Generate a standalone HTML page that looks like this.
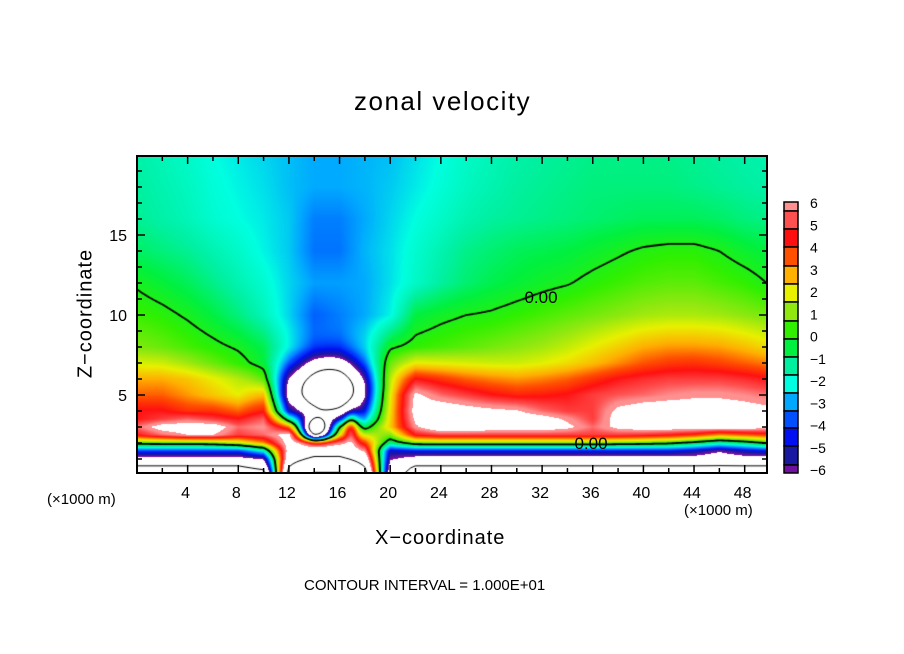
<!DOCTYPE html>
<html><head><meta charset="utf-8"><style>
body{margin:0;background:#fff;width:904px;height:654px;overflow:hidden;position:relative;font-family:"Liberation Sans",sans-serif;}
.t{position:absolute;color:#000;white-space:nowrap;}
</style></head><body>
<div class="t" style="left:354px;top:86px;font-size:26px;letter-spacing:1.5px;">zonal velocity</div>
<div class="t" style="left:16px;top:302px;font-size:20px;letter-spacing:1px;transform:rotate(-90deg);transform-origin:center;width:140px;text-align:center;">Z−coordinate</div>
<div class="t" style="left:375px;top:527px;font-size:20px;letter-spacing:1px;">X−coordinate</div>
<div class="t" style="left:47px;top:491px;font-size:15px;">(×1000 m)</div>
<div class="t" style="left:684px;top:502px;font-size:15px;">(×1000 m)</div>
<div class="t" style="left:304px;top:577px;font-size:15px;">CONTOUR INTERVAL = 1.000E+01</div>
<canvas id="cv" width="631" height="318" style="position:absolute;left:137px;top:156px;"></canvas>
<svg id="ov" width="904" height="654" style="position:absolute;left:0;top:0;"></svg>
<script>
const xCols=[0,2,4,6,8,10,12,14,16,18,20,22,24,26,28,30,32,34,36,38,40,42,44,46,48,50];
const zRows=[0,0.5,1,1.5,2,2.5,3,3.5,4,5,6,7,8,10,12,14,16,18,20];
const uRows=[
[-12,-12,-12,-12,-12,-12,12,22,22,12,-8,-12,-12,-12,-12,-12,-12,-12,-12,-12,-12,-12,-12,-12,-12,-12],
[-10.5,-10.5,-10.5,-10.5,-10.5,-9,10,16,16,10,-7,-10.5,-10.5,-10.5,-10.5,-10.5,-10.5,-10.5,-10.5,-10.5,-10.5,-10.5,-10.5,-10.5,-10.5,-10.5],
[-7,-7,-7,-7,-7,-6,8,11,11,8,-6,-7,-7,-7,-7,-7,-7,-7,-7,-7,-7,-7,-7,-7.5,-7,-7],
[-4,-4,-4,-4,-4,-2,7,8,8,6,-5,-4.5,-4.5,-4.5,-4.5,-4.5,-4.5,-4.5,-4.5,-4.5,-4.5,-4.5,-5,-6,-5,-4.5],
[0.5,0.6,0.6,0.8,1.5,3,7,6,6,4,-1,0.8,1,1,1,1,1,1,1,0.8,0.6,0.3,-0.5,-1.5,-0.8,0.3],
[4.5,5.5,6.2,6.2,5,5.5,7,-1,3,2,1,4.5,5,5,5,5,5,5,5,5,4.8,4.5,4,3,3.5,4],
[5.5,6.8,7,7,5.5,6,4,-2,2,0,2.5,6,7.5,7.5,7,7,7,6.5,5.5,6.5,7,7,7,7,7,6.5],
[4.5,5,5.5,5,4.5,5.5,0,-2,-1,-1.5,2.5,6.5,7.5,7.5,7,7,6.8,6,5,6.8,7.2,7.2,7.2,7.2,7,6.8],
[4.5,4.5,4,4,3.5,4.5,-3,-2.5,-2.5,-2,2.5,6.8,7.2,6.8,6.5,6.3,5.5,5,5,6.5,7,7,7,7,6.8,6.5],
[3.5,3.5,3,2.5,2,3,-4,-3,-3,-2,2.5,6.5,5.5,5,4.5,4.2,4.3,4.5,5,5.3,5.5,5.8,6,6,5.8,5.5],
[2.8,2.8,2.5,2,1.5,1,-3.5,-3,-3,-2,2,4.5,4,3.5,3.2,3,3.2,3.5,4,4.5,4.8,5,5,5,4.8,4.5],
[1.8,1.7,1.3,0.8,0.3,-0.3,-2.5,-3.5,-3.5,-2,1,2,1.9,1.8,1.7,1.7,1.9,2.2,2.6,3.1,3.6,3.9,4,3.8,3.5,3.2],
[1.0,0.8,0.5,0.2,-0.1,-0.6,-2,-3.3,-3.3,-2.2,-0.1,0.3,0.5,0.7,0.9,1.1,1.3,1.6,2,2.4,2.8,3.0,3.0,2.9,2.6,2.2],
[0.4,0.2,-0.1,-0.5,-1.0,-1.6,-2.5,-3.6,-3.3,-2.9,-2.2,-0.5,-0.2,0.0,0.1,0.3,0.5,0.7,0.9,1.1,1.3,1.4,1.4,1.3,1.1,0.9],
[-0.1,-0.4,-0.7,-1.1,-1.5,-1.9,-2.5,-3.0,-3.0,-2.9,-2.4,-1.8,-1.3,-0.9,-0.6,-0.4,-0.2,-0.05,0.2,0.4,0.6,0.7,0.7,0.5,0.3,-0.05],
[-0.8,-1.0,-1.2,-1.5,-1.8,-2.2,-2.6,-3.4,-3.4,-2.8,-2.4,-1.9,-1.5,-1.1,-0.9,-0.7,-0.6,-0.5,-0.3,-0.1,0.1,0.2,0.2,0.0,-0.3,-0.5],
[-1.2,-1.4,-1.6,-1.9,-2.1,-2.3,-2.6,-3.3,-3.3,-2.9,-2.5,-2.1,-1.8,-1.5,-1.3,-1.2,-1.1,-1.0,-0.9,-0.8,-0.7,-0.7,-0.7,-0.8,-1.0,-1.1],
[-1.3,-1.5,-1.7,-2.0,-2.2,-2.4,-2.7,-2.9,-2.9,-2.8,-2.6,-2.3,-2.0,-1.7,-1.5,-1.3,-1.2,-1.1,-1.0,-1.0,-1.0,-1.0,-1.1,-1.2,-1.3,-1.4],
[-1.4,-1.6,-1.8,-2.1,-2.3,-2.5,-2.7,-2.9,-2.9,-2.8,-2.7,-2.4,-2.1,-1.8,-1.6,-1.4,-1.3,-1.2,-1.1,-1.1,-1.1,-1.1,-1.2,-1.3,-1.4,-1.5]
];
// vortex features: centre x, centre z, radius x, radius z, amplitude
const vortexX=[15.2,14.2,16.9];
const vortexZ=[5.3,2.9,3.0];
const vortexRx=[2.8,1.1,0.6];
const vortexRz=[1.7,0.7,1.0];
const vortexAmp=[-12,-11,4];
const levelVals=[-5.96,-5.33,-4.52,-3.73,-2.92,-2.11,-1.30,-0.49,0.31,1.15,1.96,2.79,3.62,4.43,5.26,5.85];
const levelColors=["#7010a0","#1818a0","#0010f0","#0050ff","#00a8ff","#00ffe0","#00f0a0","#00f040","#30f000","#90e810","#e8f000","#ffb000","#ff5000","#ff1010","#ff5050","#ff9090"];
const cbLabels=["6","5","4","3","2","1","0","−1","−2","−3","−4","−5","−6"];
const xTickLabels=[4,8,12,16,20,24,28,32,36,40,44,48];
const zTickLabels=[5,10,15];

const X0=137,X1=767,Y0=156,Y1=473;
const sx=x=>137+x*12.66;
const sz=z=>475-z*16;
const ix=px=>(px-137)/12.66;
const iz=py=>(475-py)/16;

function seg(arr,v){let i=0;while(i<arr.length-2&&v>arr[i+1])i++;let t=(v-arr[i])/(arr[i+1]-arr[i]);t=Math.max(0,Math.min(1,t));return [i,t];}
function field(x,z){
  const [i,tx]=seg(xCols,x),[j,tz]=seg(zRows,z);
  const a=uRows[j][i],b=uRows[j][i+1],c=uRows[j+1][i],d=uRows[j+1][i+1];
  let v=(a*(1-tx)+b*tx)*(1-tz)+(c*(1-tx)+d*tx)*tz;
  for(let k=0;k<vortexX.length;k++){
    const dx=(x-vortexX[k])/vortexRx[k],dz=(z-vortexZ[k])/vortexRz[k];
    v+=vortexAmp[k]*Math.exp(-(dx*dx+dz*dz));
  }
  return v;
}
function hex(h){return [parseInt(h.slice(1,3),16),parseInt(h.slice(3,5),16),parseInt(h.slice(5,7),16)];}
const rgbs=levelColors.map(hex);
function colorOf(v){
  if(v>6.2||v<-6.2)return [255,255,255];
  if(v<=levelVals[0])return rgbs[0];
  if(v>=levelVals[levelVals.length-1])return rgbs[rgbs.length-1];
  let i=0;while(v>levelVals[i+1])i++;
  const t=(v-levelVals[i])/(levelVals[i+1]-levelVals[i]);
  return rgbs[i].map((c,k)=>Math.round(c+(rgbs[i+1][k]-c)*t));
}
const cv=document.getElementById('cv');const ctx=cv.getContext('2d');
const W=cv.width,H=cv.height;
const img=ctx.createImageData(W,H);
for(let py=0;py<H;py++)for(let px=0;px<W;px++){
  const v=field(ix(px+137+0.5),iz(py+156+0.5));
  const c=colorOf(v);const o=(py*W+px)*4;
  img.data[o]=c[0];img.data[o+1]=c[1];img.data[o+2]=c[2];img.data[o+3]=255;
}
ctx.putImageData(img,0,0);
const st=2,gw=Math.ceil(W/st)+1,gh=Math.ceil(H/st)+1;
const G=[];for(let j=0;j<gh;j++){G.push([]);for(let i=0;i<gw;i++)G[j].push(field(ix(137+i*st),iz(156+j*st)));}
function contour(level,lw,dash){
  ctx.beginPath();ctx.lineWidth=lw;ctx.strokeStyle='#000';ctx.setLineDash(dash);
  for(let j=0;j<gh-1;j++)for(let i=0;i<gw-1;i++){
    const c=[[i,j],[i+1,j],[i+1,j+1],[i,j+1]];const pts=[];
    for(let e=0;e<4;e++){
      const p=c[e],q=c[(e+1)%4];const a=G[p[1]][p[0]]-level,b=G[q[1]][q[0]]-level;
      if((a<0)!==(b<0)){const t=a/(a-b);pts.push([(p[0]+(q[0]-p[0])*t)*st,(p[1]+(q[1]-p[1])*t)*st]);}
    }
    for(let k=0;k+1<pts.length;k+=2){ctx.moveTo(pts[k][0],pts[k][1]);ctx.lineTo(pts[k+1][0],pts[k+1][1]);}
  }
  ctx.stroke();
}
contour(0,1.8,[]);contour(10,1,[]);contour(20,1,[]);contour(-10,1,[3,2]);
const NS='http://www.w3.org/2000/svg';const ov=document.getElementById('ov');
function el(t,a){const e=document.createElementNS(NS,t);for(const k in a)e.setAttribute(k,a[k]);ov.appendChild(e);return e;}
[[541,297],[591,443]].forEach(p=>{
  const bg=el('rect',{x:p[0]-19,y:p[1]-8,width:38,height:16,fill:'none'});
  const t=el('text',{x:p[0],y:p[1]+6,'font-size':17,'text-anchor':'middle','font-family':'Liberation Sans, sans-serif'});
  t.textContent='0.00';
  
  
});
const fr=el('rect',{x:X0,y:Y0,width:X1-X0,height:Y1-Y0,fill:'none',stroke:'#000','stroke-width':2});


for(let x=2;x<50;x+=2){
  const L=(x%4===0)?8:5;
  el('line',{x1:sx(x),x2:sx(x),y1:Y1,y2:Y1-L,stroke:'#000','stroke-width':1.5});
  el('line',{x1:sx(x),x2:sx(x),y1:Y0,y2:Y0+L,stroke:'#000','stroke-width':1.5});
}
for(let z=1;z<20;z++){
  const L=(z%5===0)?8:5;
  el('line',{x1:X0,x2:X0+L,y1:sz(z),y2:sz(z),stroke:'#000','stroke-width':1.5});
  el('line',{x1:X1,x2:X1-L,y1:sz(z),y2:sz(z),stroke:'#000','stroke-width':1.5});
}
xTickLabels.forEach(v=>{const t=el('text',{x:sx(v)-2,y:498,'font-size':16,'text-anchor':'middle','font-family':'Liberation Sans, sans-serif'});t.textContent=v;
  
  });
zTickLabels.forEach(v=>{const t=el('text',{x:127,y:sz(v)+6,'font-size':16,'text-anchor':'end','font-family':'Liberation Sans, sans-serif'});t.textContent=v;
  
  });
const cbTop=[202,211,229,247,266,284,302,321,339,357,375,393,411,428,446,465],cbH=[9,18,18,19,18,18,19,18,18,18,18,18,17,18,19,8];
const cbCols=levelColors.slice().reverse();
for(let k=0;k<cbTop.length;k++){
  const r=el('rect',{x:784,y:cbTop[k],width:14,height:cbH[k],fill:cbCols[k],stroke:'#000','stroke-width':1.5});
  
  
}
cbLabels.forEach((s,k)=>{const t=el('text',{x:810,y:208+k*22.25,'font-size':14,'font-family':'Liberation Sans, sans-serif'});t.textContent=s;
  
  });
</script>
</body></html>
